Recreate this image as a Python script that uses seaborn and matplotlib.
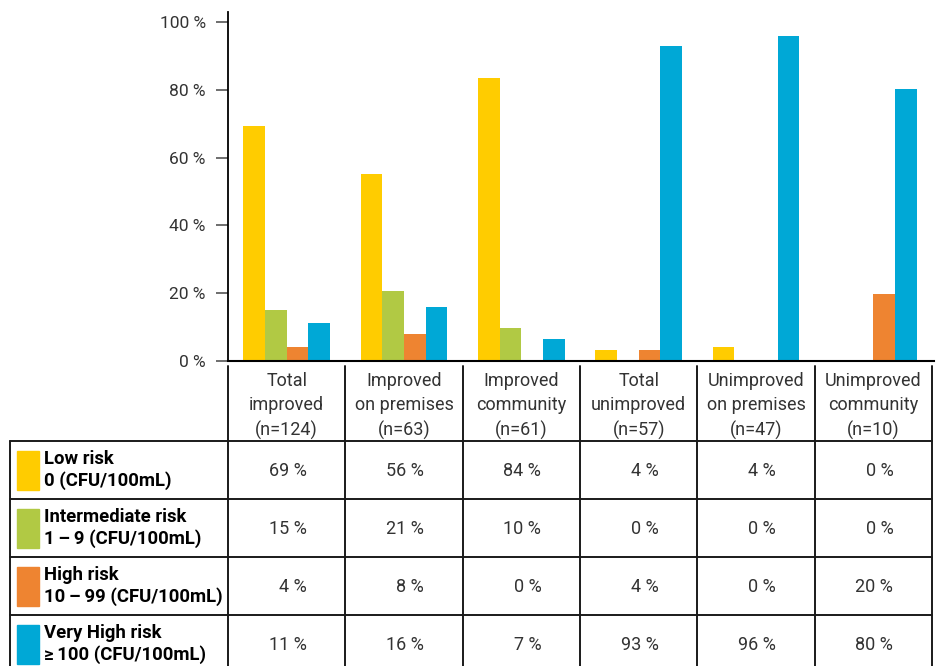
import matplotlib.pyplot as plt
import pandas as pd
import seaborn as sns

# Data
categories = ["Total\nimproved\n(n=124)", "Improved\non premises\n(n=63)", "Improved\ncommunity\n(n=61)",
              "Total\nunimproved\n(n=57)", "Unimproved\non premises\n(n=47)", "Unimproved\ncommunity\n(n=10)"]
risks = ["Low risk\n0 (CFU/100mL)", "Intermediate risk\n1\u2009\u2013\u20099 (CFU/100mL)",
         "High risk\n10\u2009\u2013\u200999 (CFU/100mL)", "Very High risk\n\u2265\u2009100 (CFU/100mL)"]
low_risk = [69.3, 55.1, 83.4, 3.2, 4.1, 0]
intermediate_risk = [15.0, 20.6, 9.7, 0, 0, 0]
high_risk = [4.1, 8.0, 0, 3.2, 0, 19.7]
very_high_risk = [11.2, 15.9, 6.5, 92.8, 95.8, 80.2]
# table values as printed
table_low = [69, 56, 84, 4, 4, 0]
table_intermediate = [15, 21, 10, 0, 0, 0]
table_high = [4, 8, 0, 4, 0, 20]
table_very_high = [11, 16, 7, 93, 96, 80]
colors = ["#FFCC00", "#B1C944", "#EE8431", "#00A8D6"]

series = [low_risk, intermediate_risk, high_risk, very_high_risk]
table_rows = [table_low, table_intermediate, table_high, table_very_high]

df = pd.DataFrame([
    {"category": c, "risk": r, "value": v}
    for r, vals in zip(risks, series)
    for c, v in zip(categories, vals)
])

sns.set_style("white")
plt.rcParams['font.family'] = ['Roboto', 'DejaVu Sans']
text_color = "#333333"

W, H = 937, 666
fig = plt.figure(figsize=(W / 100, H / 100), dpi=100)

# bar chart axes (pixel box)
ax_l, ax_r, ax_b, ax_t = 228, 932, 361, 12
ax = fig.add_axes([ax_l / W, 1 - ax_b / H, (ax_r - ax_l) / W, (ax_b - ax_t) / H])
sns.barplot(data=df, x="category", y="value", hue="risk", hue_order=risks, order=categories,
            palette=colors, saturation=1, width=0.74, gap=0, legend=False, linewidth=0, ax=ax)
ax.set_xlim(-0.5, 5.5)
ax.set_ylim(0, 102.9)
ax.set_yticks(range(0, 101, 20))
ax.set_yticklabels([f"{v} %" for v in range(0, 101, 20)], fontsize=12.5, color=text_color)
ax.tick_params(axis="y", length=9, width=1.2, color="#555555", pad=7, left=True)
ax.set_xticks([])
ax.set_xlabel("")
ax.set_ylabel("")
for s in ["top", "right"]:
    ax.spines[s].set_visible(False)
ax.spines["left"].set_linewidth(1.3)
ax.spines["left"].set_color("black")
ax.spines["bottom"].set_linewidth(1.5)
ax.spines["bottom"].set_color("black")
ax.spines["bottom"].set_bounds(-0.5, 5.52)

# table axes, same category units on x
unit = (ax_r - ax_l) / 6
tb_l, tb_t = 10, 361
left_units = -0.5 - (ax_l - tb_l) / unit
tb = fig.add_axes([tb_l / W, 0, (ax_r - tb_l) / W, (H - tb_t) / H])
tb.set_xlim(left_units, 5.5)
tb.set_ylim(H - tb_t, 0)
tb.axis("off")

header_h, row_h = 80, 58
line_kw = dict(color="#1a1a1a", lw=1.4, clip_on=False)
# vertical lines
for i in range(7):
    tb.plot([i - 0.5, i - 0.5], [5, header_h + 4 * row_h], **line_kw)
tb.plot([left_units, left_units], [header_h, header_h + 4 * row_h], **line_kw)
# horizontal lines
for k in range(4):
    y = header_h + k * row_h
    tb.plot([left_units, 5.5], [y, y], **line_kw)

# headers
for i, c in enumerate(categories):
    tb.text(i, header_h / 2 + 5, c, ha="center", va="center", fontsize=13, color=text_color,
            linespacing=1.42)

# rows: legend swatch + label + values
sw_w = 22 / unit
for k, (r, col, vals) in enumerate(zip(risks, colors, table_rows)):
    y0 = header_h + k * row_h
    tb.add_patch(plt.Rectangle((left_units + 7 / unit, y0 + 10), sw_w, 39, color=col, clip_on=False))
    tb.text(left_units + 34 / unit, y0 + row_h / 2, r, ha="left", va="center", fontsize=13.3,
            fontweight="bold", color="black", linespacing=1.2)
    for i, v in enumerate(vals):
        tb.text(i + 20 / unit, y0 + row_h / 2 + 1, f"{v} %", ha="right", va="center", fontsize=13,
                color=text_color)

fig.savefig("out.png", dpi=100)
